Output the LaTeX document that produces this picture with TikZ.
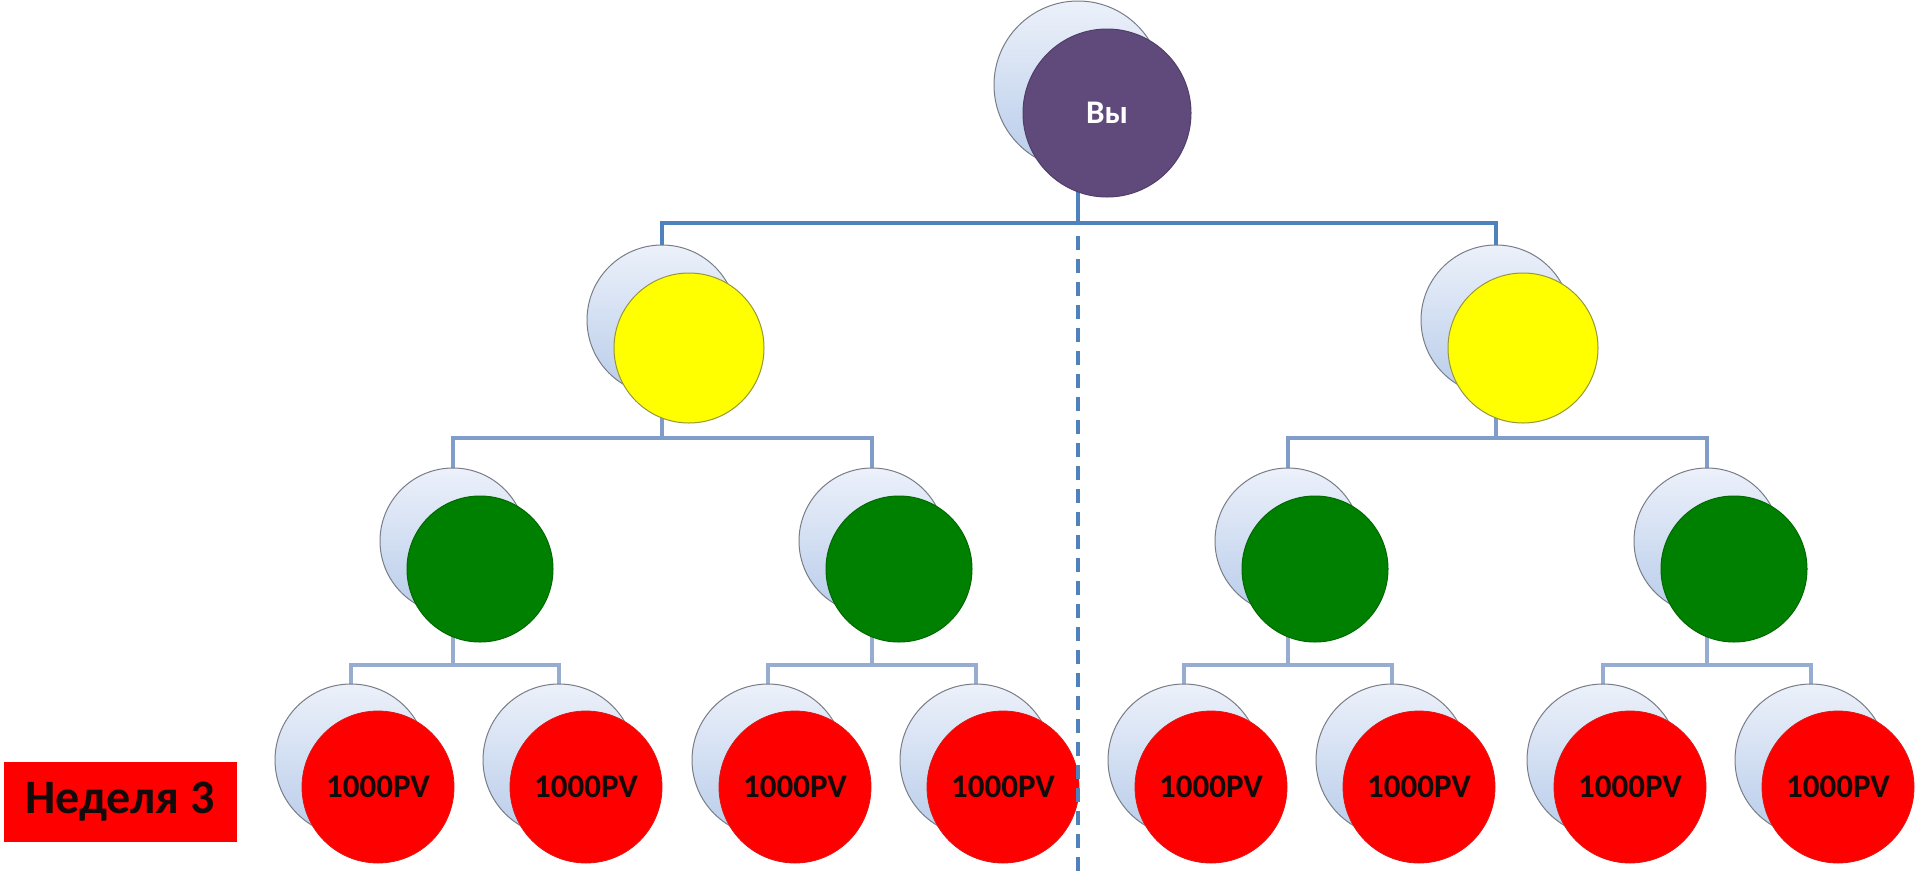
\documentclass[tikz,border=0pt]{standalone}
\usepackage{fontspec}
\setmainfont{Carlito}
\usetikzlibrary{calc}
\begin{document}
\begin{tikzpicture}[x=1pt,y=-1pt,
  backc/.style={circle,inner sep=0pt,minimum size=#1,draw={rgb,255:red,120;green,125;blue,135},line width=1pt,
    top color={rgb,255:red,236;green,241;blue,250},bottom color={rgb,255:red,184;green,204;blue,234}},
  purplec/.style={circle,inner sep=0pt,minimum size=168pt,fill={rgb,255:red,96;green,74;blue,123},draw={rgb,255:red,80;green,62;blue,104},line width=1pt,
    text=white,font=\fontsize{33}{35}\selectfont\bfseries},
  yellowc/.style={circle,inner sep=0pt,minimum size=150pt,fill={rgb,255:red,255;green,255;blue,0},draw={rgb,255:red,150;green,150;blue,60},line width=1pt},
  greenc/.style={circle,inner sep=0pt,minimum size=146pt,fill={rgb,255:red,0;green,128;blue,0},draw={rgb,255:red,0;green,105;blue,0},line width=1pt},
  redc/.style={circle,inner sep=0pt,minimum size=152pt,fill={rgb,255:red,255;green,0;blue,0},draw={rgb,255:red,225;green,20;blue,20},line width=0.8pt,
    text={rgb,255:red,20;green,10;blue,10},font=\fontsize{33}{35}\selectfont\bfseries},
  lone/.style={draw={rgb,255:red,79;green,129;blue,189},line width=4.5pt},
  ltwo/.style={draw={rgb,255:red,128;green,156;blue,200},line width=4.5pt},
  lthree/.style={draw={rgb,255:red,150;green,172;blue,208},line width=4.5pt},
  divider/.style={draw={rgb,255:red,79;green,129;blue,189},line width=3.5pt,dash pattern=on 14pt off 9pt},
  weekbox/.style={rectangle,inner sep=0pt,minimum width=233pt,minimum height=80pt,fill={rgb,255:red,255;green,0;blue,0},
    text={rgb,255:red,20;green,10;blue,10},font=\fontsize{48}{50}\selectfont\bfseries}
]
\useasboundingbox (0,0) rectangle (1920,879);
\fill[white] (0,0) rectangle (1920,879);

% anchor coordinates (back-circle centres)
\coordinate (cP) at (1078,85);
\coordinate (cYL) at (662,320);
\coordinate (cYR) at (1496,320);
\coordinate (cG1) at (453,541);
\coordinate (cG2) at (872,541);
\coordinate (cG3) at (1288,541);
\coordinate (cG4) at (1707,541);
\foreach \i/\x in {1/351,2/559,3/768,4/976,5/1184,6/1392,7/1603,8/1811}{
  \coordinate (cR\i) at (\x,760);
}

% connectors
\draw[lone] (cP) -- (cP |- 0,223) -| (cYL);
\draw[lone] (cP) -- (cP |- 0,223) -| (cYR);
\draw[ltwo] (cYL) -- (cYL |- 0,438) -| (cG1);
\draw[ltwo] (cYL) -- (cYL |- 0,438) -| (cG2);
\draw[ltwo] (cYR) -- (cYR |- 0,438) -| (cG3);
\draw[ltwo] (cYR) -- (cYR |- 0,438) -| (cG4);
\draw[lthree] (cG1) -- (cG1 |- 0,665) -| (cR1);
\draw[lthree] (cG1) -- (cG1 |- 0,665) -| (cR2);
\draw[lthree] (cG2) -- (cG2 |- 0,665) -| (cR3);
\draw[lthree] (cG2) -- (cG2 |- 0,665) -| (cR4);
\draw[lthree] (cG3) -- (cG3 |- 0,665) -| (cR5);
\draw[lthree] (cG3) -- (cG3 |- 0,665) -| (cR6);
\draw[lthree] (cG4) -- (cG4 |- 0,665) -| (cR7);
\draw[lthree] (cG4) -- (cG4 |- 0,665) -| (cR8);

% circles
\node[backc=168pt] (bP) at (cP) {};
\node[purplec] (fP) at ($(cP)+(29,28)$) {Вы};

\node[backc=150pt] (bYL) at (cYL) {};
\node[yellowc] (fYL) at ($(cYL)+(27,28)$) {};
\node[backc=150pt] (bYR) at (cYR) {};
\node[yellowc] (fYR) at ($(cYR)+(27,28)$) {};

\foreach \g in {1,2,3,4}{
  \node[backc=146pt] (bG\g) at (cG\g) {};
  \node[greenc] (fG\g) at ($(cG\g)+(27,28)$) {};
}
\foreach \r in {1,...,8}{
  \node[backc=152pt] (bR\r) at (cR\r) {};
  \node[redc] (fR\r) at ($(cR\r)+(27,27)$) {1000PV};
}

% divider
\coordinate (dTop) at (1078,236);
\coordinate (dBot) at (1078,879);
\draw[divider] (dTop) -- (dBot);

% week label
\node[weekbox] (week) at (120,802) {Неделя 3};
\end{tikzpicture}
\end{document}
